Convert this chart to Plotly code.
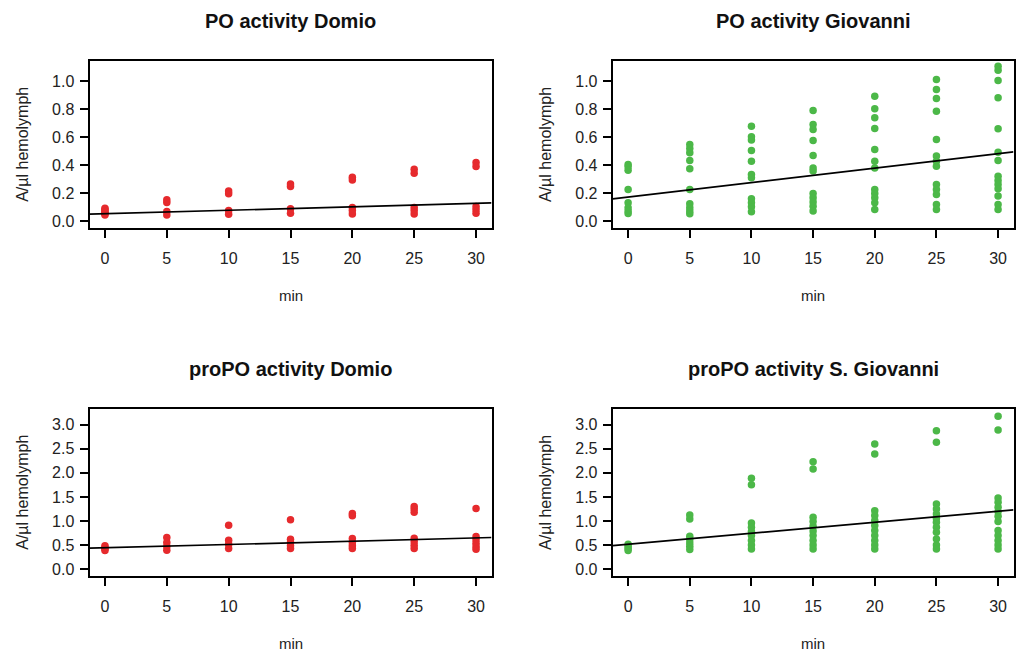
import plotly.graph_objects as go

minutes = [0, 5, 10, 15, 20, 25, 30]

# PO activity Domio (red)
po_domio = {
    0: [0.095, 0.085, 0.075, 0.065, 0.055, 0.047],
    5: [0.154, 0.135, 0.071, 0.047],
    10: [0.218, 0.197, 0.078, 0.052],
    15: [0.268, 0.249, 0.09, 0.059],
    20: [0.315, 0.296, 0.1, 0.078, 0.054],
    25: [0.372, 0.344, 0.1, 0.078, 0.054],
    30: [0.42, 0.391, 0.107, 0.083, 0.059],
}
po_domio_fit = (0.055, 0.0025)

# PO activity Giovanni (green)
po_giov = {
    0: [0.406, 0.39, 0.366, 0.228, 0.133, 0.097, 0.074, 0.057],
    5: [0.549, 0.52, 0.489, 0.435, 0.375, 0.228, 0.126, 0.097, 0.074, 0.055],
    10: [0.679, 0.603, 0.58, 0.506, 0.43, 0.335, 0.311, 0.162, 0.133, 0.105, 0.069],
    15: [0.791, 0.691, 0.656, 0.577, 0.47, 0.382, 0.359, 0.2, 0.169, 0.138, 0.109, 0.074],
    20: [0.893, 0.803, 0.739, 0.663, 0.513, 0.43, 0.382, 0.228, 0.2, 0.169, 0.133, 0.086],
    25: [1.012, 0.941, 0.876, 0.786, 0.584, 0.466, 0.43, 0.394, 0.264, 0.228, 0.192, 0.121, 0.086],
    30: [1.107, 1.078, 1.005, 0.881, 0.66, 0.494, 0.435, 0.323, 0.292, 0.264, 0.233, 0.181, 0.121, 0.086],
}
po_giov_fit = (0.174, 0.0103)

# proPO activity Domio (red)
propo_domio = {
    0: [0.485, 0.45, 0.42, 0.39],
    5: [0.658, 0.554, 0.471, 0.395],
    10: [0.915, 0.603, 0.52, 0.43],
    15: [1.026, 0.624, 0.554, 0.485, 0.43],
    20: [1.157, 1.109, 0.638, 0.554, 0.485, 0.43],
    25: [1.30, 1.25, 1.18, 0.645, 0.568, 0.5, 0.43],
    30: [1.26, 0.68, 0.61, 0.54, 0.47, 0.415],
}
propo_domio_fit = (0.446, 0.0068)

# proPO activity S. Giovanni (green)
propo_giov = {
    0: [0.52, 0.47, 0.43, 0.39],
    5: [1.126, 1.044, 0.684, 0.615, 0.546, 0.477, 0.408],
    10: [1.887, 1.755, 0.96, 0.871, 0.781, 0.698, 0.594, 0.504, 0.42],
    15: [2.232, 2.08, 1.078, 0.988, 0.891, 0.795, 0.698, 0.594, 0.504, 0.42],
    20: [2.598, 2.391, 1.216, 1.113, 1.009, 0.905, 0.802, 0.698, 0.594, 0.504, 0.42],
    25: [2.875, 2.633, 1.355, 1.251, 1.147, 1.057, 0.974, 0.871, 0.767, 0.629, 0.504, 0.42],
    30: [3.172, 2.889, 1.479, 1.389, 1.285, 1.196, 1.099, 0.988, 0.802, 0.698, 0.594, 0.504, 0.42],
}
propo_giov_fit = (0.519, 0.0228)

titles = ["PO activity Domio", "PO activity Giovanni",
          "proPO activity Domio", "proPO activity S. Giovanni"]
x_label = "min"
y_label = "A/µl hemolymph"
po_ticks = [0.0, 0.2, 0.4, 0.6, 0.8, 1.0]
propo_ticks = [0.0, 0.5, 1.0, 1.5, 2.0, 2.5, 3.0]

RED = "#e62a2d"
GREEN = "#4cb848"
W, H = 1017, 657
FONT = "Liberation Sans, Arial, sans-serif"

# panel boxes in pixels: (left, right, top, bottom)
boxes = [
    (89.5, 491.5, 61, 228.5),
    (612.7, 1013.5, 61, 228.5),
    (89.5, 491.5, 410, 577.5),
    (612.7, 1013.5, 410, 577.5),
]
panels = [
    (po_domio, po_domio_fit, RED, po_ticks, [-0.045, 1.145]),
    (po_giov, po_giov_fit, GREEN, po_ticks, [-0.045, 1.145]),
    (propo_domio, propo_domio_fit, RED, propo_ticks, [-0.135, 3.33]),
    (propo_giov, propo_giov_fit, GREEN, propo_ticks, [-0.135, 3.33]),
]
xrange = [-1.25, 31.25]

fig = go.Figure()
layout = dict(
    width=W, height=H, margin=dict(l=0, r=0, t=0, b=0),
    paper_bgcolor="white", plot_bgcolor="white", showlegend=False,
    font=dict(family=FONT, color="#222222"),
)
annotations = []
for i, ((data, fit, color, yt, yr), (l, r, t, b)) in enumerate(zip(panels, boxes)):
    n = i + 1
    xa = "x" if n == 1 else f"x{n}"
    ya = "y" if n == 1 else f"y{n}"
    xs, ys = [], []
    for m in minutes:
        for v in data[m]:
            xs.append(m)
            ys.append(v)
    fig.add_trace(go.Scatter(x=xs, y=ys, mode="markers", xaxis=xa, yaxis=ya,
                             marker=dict(color=color, size=7.5, line=dict(width=0))))
    a, s = fit
    fig.add_trace(go.Scatter(x=[xrange[0], xrange[1]], y=[a + s * xrange[0], a + s * xrange[1]],
                             mode="lines", xaxis=xa, yaxis=ya,
                             line=dict(color="black", width=1.7)))
    common = dict(showline=True, linecolor="black", linewidth=2, mirror=True,
                  ticks="outside", ticklen=8, tickwidth=2, tickcolor="black",
                  showgrid=False, zeroline=False,
                  tickfont=dict(family=FONT, size=16, color="#222222"))
    layout["xaxis" if n == 1 else f"xaxis{n}"] = dict(
        domain=[l / W, r / W], range=xrange, tickvals=minutes,
        anchor=ya, ticklabelstandoff=7, **common)
    layout["yaxis" if n == 1 else f"yaxis{n}"] = dict(
        domain=[1 - b / H, 1 - t / H], range=yr, tickvals=yt,
        tickformat=".1f", anchor=xa, ticklabelstandoff=2, **common)
    cx = (l + r) / 2
    annotations.append(dict(text=f"<b>{titles[i]}</b>", x=cx / W, y=1 - (t - 40) / H,
                            xref="paper", yref="paper", showarrow=False,
                            xanchor="center", yanchor="middle",
                            font=dict(family=FONT, size=20, color="#111111")))
    annotations.append(dict(text=x_label, x=cx / W, y=1 - (b + 68) / H,
                            xref="paper", yref="paper", showarrow=False,
                            xanchor="center", yanchor="middle",
                            font=dict(family=FONT, size=15, color="#222222")))
    annotations.append(dict(text=y_label, x=(l - 67) / W, y=1 - ((t + b) / 2) / H,
                            xref="paper", yref="paper", showarrow=False, textangle=-90,
                            xanchor="center", yanchor="middle",
                            font=dict(family=FONT, size=16, color="#222222")))
layout["annotations"] = annotations
fig.update_layout(**layout)
fig.write_html("out.html", config={"displayModeBar": False},
               post_script="document.body.style.margin='0';document.body.style.overflow='hidden';")
